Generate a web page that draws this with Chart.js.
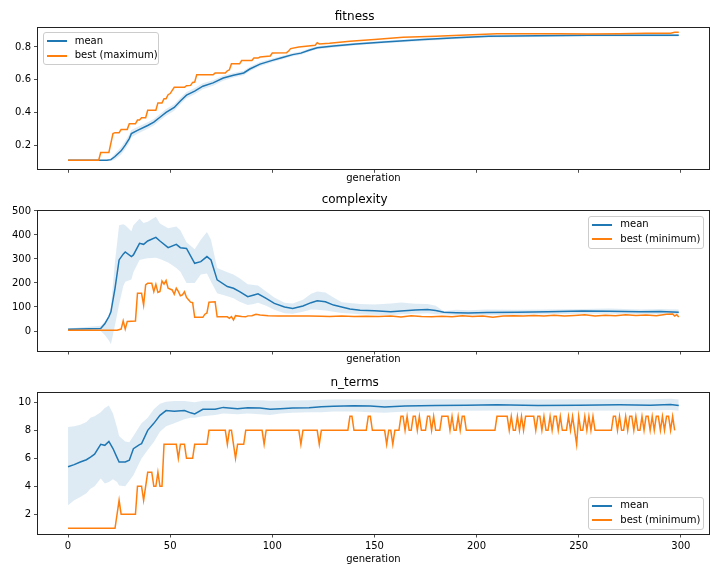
<!DOCTYPE html>
<html>
<head>
<meta charset="utf-8">
<script src="https://cdn.jsdelivr.net/npm/chart.js@4.4.0/dist/chart.umd.min.js"></script>
<style>
    body { margin: 0; background: #fff; }
    #wrap { position: relative; width: 720px; height: 576px; font-family: "DejaVu Sans", sans-serif; }
    #wrap canvas { position: absolute; left: 0; }
    .legend { position: absolute; background: rgba(255,255,255,0.8); border: 1px solid #cccccc; border-radius: 3px; box-sizing: border-box; }
    .legend .sw { position: absolute; height: 2px; width: 20px; }
    .legend .lb { position: absolute; font-size: 10px; line-height: 12px; color: #000; white-space: nowrap; }
</style>
</head>
<body>
<div id="wrap">
    <canvas id="fitChart" width="720" height="190" style="top:0px"></canvas>
    <canvas id="cxChart" width="720" height="180" style="top:190px"></canvas>
    <canvas id="ntChart" width="720" height="206" style="top:370px"></canvas>
</div>
<script>
// ---- data ----
var xTicks = [0, 50, 100, 150, 200, 250, 300];

// fitness
var fitTicks = [0.2, 0.4, 0.6, 0.8];
var fitGen = [0, 19, 21, 23, 26, 28, 30, 31, 34, 39, 42, 45, 48, 52, 55, 58, 62, 66, 71, 76, 81, 86, 89, 94, 100, 105, 110, 114, 118, 122, 130, 141, 155, 174, 190, 206, 230, 255, 280, 299];
var fitMean = [0.107, 0.107, 0.111, 0.13, 0.165, 0.2, 0.24, 0.27, 0.29, 0.32, 0.34, 0.37, 0.40, 0.43, 0.47, 0.505, 0.53, 0.56, 0.58, 0.61, 0.627, 0.641, 0.665, 0.695, 0.718, 0.735, 0.753, 0.762, 0.78, 0.795, 0.806, 0.818, 0.83, 0.845, 0.856, 0.865, 0.868, 0.871, 0.871, 0.871];
var fitUpper = [0.109, 0.109, 0.12, 0.148, 0.188, 0.225, 0.265, 0.292, 0.31, 0.34, 0.36, 0.39, 0.42, 0.45, 0.49, 0.524, 0.549, 0.578, 0.597, 0.626, 0.641, 0.655, 0.679, 0.708, 0.73, 0.746, 0.763, 0.772, 0.79, 0.804, 0.815, 0.826, 0.838, 0.853, 0.864, 0.873, 0.876, 0.879, 0.879, 0.879];
var fitLower = [0.105, 0.105, 0.102, 0.112, 0.142, 0.175, 0.215, 0.248, 0.27, 0.3, 0.32, 0.35, 0.38, 0.41, 0.45, 0.486, 0.511, 0.542, 0.563, 0.594, 0.613, 0.627, 0.651, 0.682, 0.706, 0.724, 0.743, 0.752, 0.77, 0.786, 0.797, 0.81, 0.822, 0.837, 0.848, 0.857, 0.86, 0.863, 0.863, 0.863];
var fitBestGen = [0, 15, 16, 20, 22, 23, 25, 26, 29, 30, 33, 34, 35, 36, 38, 39, 43, 44, 46, 47, 48, 49, 50, 52, 57, 58, 60, 61, 62, 63, 71, 72, 77, 78, 79, 80, 84, 85, 90, 91, 93, 94, 99, 100, 107, 108, 109, 113, 121, 122, 123, 128, 138, 150, 164, 180, 198, 210, 240, 255, 270, 283, 295, 297, 299];
var fitBest = [0.107, 0.107, 0.155, 0.155, 0.27, 0.276, 0.276, 0.296, 0.296, 0.33, 0.33, 0.353, 0.353, 0.367, 0.367, 0.413, 0.413, 0.458, 0.458, 0.484, 0.484, 0.508, 0.515, 0.553, 0.553, 0.563, 0.565, 0.583, 0.585, 0.63, 0.63, 0.64, 0.64, 0.654, 0.66, 0.697, 0.697, 0.717, 0.717, 0.732, 0.732, 0.738, 0.745, 0.763, 0.765, 0.775, 0.79, 0.80, 0.81, 0.826, 0.818, 0.822, 0.835, 0.845, 0.859, 0.866, 0.875, 0.881, 0.88, 0.879, 0.88, 0.883, 0.884, 0.889, 0.889];

// complexity
var cxTicks = [0, 100, 200, 300, 400, 500];
var cxGen = [0, 16, 18, 20, 21, 23, 25, 27, 28, 31, 32, 35, 37, 39, 43, 45, 49, 53, 55, 58, 62, 65, 68, 70, 73, 78, 81, 84, 88, 91, 93, 97, 101, 106, 110, 115, 119, 122, 126, 130, 134, 138, 143, 150, 158, 163, 170, 176, 180, 184, 190, 196, 205, 220, 235, 252, 265, 280, 290, 299];
var cxMean = [7, 10, 30, 60, 80, 178, 296, 320, 329, 310, 317, 365, 361, 375, 390, 375, 347, 361, 347, 344, 282, 289, 310, 296, 213, 185, 178, 164, 143, 150, 155, 136, 115, 100, 94, 104, 118, 126, 122, 108, 100, 92, 86, 84, 80, 83, 87, 90, 85, 78, 76, 75, 77, 78, 80, 83, 82, 80, 81, 78];
var cxUpper = [10, 22, 40, 60, 100, 290, 440, 445, 440, 415, 440, 468, 450, 455, 476, 448, 428, 435, 420, 370, 340, 380, 412, 380, 262, 245, 235, 220, 195, 192, 190, 165, 140, 118, 115, 130, 155, 165, 160, 140, 120, 117, 112, 110, 115, 119, 114, 112, 105, 82, 88, 86, 90, 88, 90, 92, 94, 90, 92, 90];
var cxLower = [4, 0, -17, -40, -55, 25, 110, 185, 205, 215, 245, 296, 300, 303, 305, 300, 285, 262, 247, 200, 200, 235, 240, 205, 157, 145, 136, 122, 108, 112, 118, 105, 88, 74, 72, 80, 90, 88, 85, 80, 75, 73, 70, 68, 66, 70, 72, 74, 70, 70, 67, 65, 66, 68, 70, 72, 72, 71, 70, 68];
var cxBestGen = [0, 24, 26, 27, 28, 29, 33, 34, 36, 37, 38, 39, 41, 42, 43, 44, 45, 46, 47, 48, 49, 51, 52, 53, 54, 55, 56, 57, 58, 59, 60, 61, 62, 66, 67, 68, 69, 72, 73, 78, 79, 80, 81, 82, 85, 87, 88, 90, 92, 94, 98, 103, 108, 112, 118, 124, 128, 134, 140, 146, 152, 158, 163, 168, 173, 178, 183, 188, 193, 198, 203, 208, 213, 218, 223, 228, 233, 238, 243, 248, 253, 258, 263, 268, 273, 278, 283, 288, 293, 296, 297, 298, 299];
var cxBest = [3, 3, 8, 42, 8, 40, 42, 157, 157, 108, 192, 199, 199, 164, 194, 161, 165, 208, 195, 210, 178, 171, 153, 178, 165, 147, 150, 164, 140, 130, 120, 118, 57, 57, 70, 75, 120, 122, 59, 59, 53, 60, 46, 64, 60, 59, 63, 64, 70, 67, 64, 62, 63, 62, 62, 61, 60, 62, 60, 61, 60, 62, 58, 63, 60, 59, 61, 59, 63, 60, 62, 57, 62, 64, 62, 65, 63, 66, 62, 65, 68, 63, 66, 64, 68, 65, 67, 64, 70, 71, 62, 68, 58];

// n_terms
var ntTicks = [2, 4, 6, 8, 10];
var ntGen = [0, 3, 6, 9, 11, 13, 16, 18, 20, 22, 24, 25, 28, 30, 32, 35, 36, 39, 42, 45, 48, 52, 57, 60, 62, 66, 72, 76, 83, 88, 94, 99, 104, 110, 118, 124, 130, 140, 148, 155, 165, 180, 195, 210, 230, 250, 270, 285, 295, 299];
var ntMean = [5.40, 5.55, 5.74, 5.9, 6.09, 6.3, 7.0, 6.93, 7.21, 6.7, 6.05, 5.74, 5.74, 5.86, 6.69, 6.98, 7.05, 8.0, 8.5, 9.07, 9.41, 9.36, 9.41, 9.25, 9.17, 9.5, 9.5, 9.64, 9.55, 9.62, 9.6, 9.5, 9.55, 9.6, 9.62, 9.69, 9.72, 9.76, 9.74, 9.66, 9.74, 9.78, 9.8, 9.82, 9.78, 9.8, 9.82, 9.8, 9.85, 9.78];
var ntUpper = [8.24, 8.3, 8.4, 8.6, 8.9, 9.0, 9.3, 9.6, 9.78, 9.2, 8.2, 7.6, 7.2, 7.15, 7.6, 8.3, 8.5, 8.9, 9.5, 9.9, 10.05, 10.1, 10.1, 10.05, 10.0, 10.12, 10.12, 10.15, 10.12, 10.15, 10.15, 10.12, 10.13, 10.14, 10.15, 10.18, 10.2, 10.2, 10.2, 10.18, 10.2, 10.22, 10.22, 10.23, 10.2, 10.22, 10.23, 10.22, 10.25, 10.2];
var ntLower = [2.64, 3.0, 3.24, 3.5, 3.83, 4.0, 4.55, 4.2, 4.31, 4.5, 4.3, 4.05, 4.0, 4.4, 4.79, 5.7, 5.98, 6.6, 7.17, 7.9, 8.3, 8.5, 8.8, 8.9, 8.9, 9.0, 9.1, 9.2, 9.15, 9.2, 9.15, 9.1, 9.2, 9.25, 9.3, 9.3, 9.35, 9.35, 9.3, 9.25, 9.35, 9.38, 9.4, 9.42, 9.4, 9.4, 9.42, 9.42, 9.45, 9.4];
var ntBestGen = [0, 23, 25, 26, 33, 34, 36, 37, 39, 41, 42, 43, 44, 45, 46, 47, 53, 54, 55, 57, 58, 61, 62, 68, 69, 77, 78, 79, 80, 82, 83, 86, 87, 95, 96, 97, 113, 114, 115, 122, 123, 124, 137, 138, 139, 140, 146, 147, 148, 149, 155, 156, 157, 158, 159, 160,
    162, 163, 164, 165, 166, 167, 168, 169, 170, 171, 172, 173, 175, 176, 177, 178, 179, 180, 182, 183, 186, 187, 188, 189, 190, 191, 192, 193, 194, 195, 209, 210, 215, 216, 217, 218, 219, 220, 221, 222, 223, 224, 228, 229, 230, 231, 232, 233, 234, 235, 236, 237, 238, 239, 240, 241, 242, 244, 245, 246, 247, 248, 249, 250, 251, 252, 253, 254, 255, 256, 257, 258, 266, 267, 268, 269, 270, 271, 272, 273, 274, 275, 276, 277, 278, 279, 280, 281, 282, 283, 284, 285, 286, 287, 288, 289, 290, 291, 292, 293, 294, 295, 296, 297, 298, 299];
var ntBest = [1, 1, 3, 2, 2, 4, 4, 3, 5, 5, 4, 4, 5, 4, 4, 7, 7, 6, 7, 7, 6, 6, 7, 7, 8, 8, 7, 8, 8, 6, 7, 7, 8, 8, 7, 8, 8, 7, 8, 8, 7, 8, 8, 9, 9, 8, 8, 9, 9, 8, 8, 7, 8, 8, 7, 8,
    8, 9, 9, 8, 9, 8, 8, 9, 9, 8, 9, 8, 8, 9, 9, 8, 9, 8, 8, 9, 9, 8, 9, 8, 8, 9, 8, 9, 9, 8, 8, 9, 9, 8, 9, 8, 8, 9, 8, 9, 8, 9, 9, 8, 9, 9, 8, 9, 8, 8, 9, 8, 9, 9, 8, 9, 8, 8, 9, 8, 9, 8, 7, 9, 8, 8, 9, 8, 9, 8, 9, 8, 8, 9, 9, 8, 9, 8, 8, 9, 8, 9, 9, 8, 9, 8, 8, 9, 8, 9, 9, 8, 9, 8, 9, 9, 8, 9, 8, 9, 9, 8, 9, 8];

var BLUE = '#1f77b4';
var ORANGE = '#ff7f0e';
var BAND = 'rgba(31,119,180,0.15)';
var FONT = 'DejaVu Sans';

Chart.defaults.font.family = FONT;

function pts(xs, ys) {
    return xs.map(function (x, i) { return { x: x, y: ys[i] }; });
}

// black box round the plot area, like matplotlib spines
var framePlugin = {
    id: 'frame',
    afterDraw: function (chart) {
        var a = chart.chartArea, ctx = chart.ctx;
        ctx.save();
        ctx.strokeStyle = '#222';
        ctx.lineWidth = 1;
        var l = Math.floor(a.left) + 0.5, t = Math.floor(a.top) + 0.5;
        var r = Math.floor(a.right) + 0.5, b = Math.floor(a.bottom) + 0.5;
        ctx.strokeRect(l, t, r - l, b - t);
        ctx.restore();
    }
};

function makeChart(id, cfg) {
    var ctx = document.getElementById(id).getContext('2d');
    return new Chart(ctx, {
        type: 'line',
        data: {
            datasets: [{
                data: pts(cfg.bestGen, cfg.best),
                borderColor: ORANGE, borderWidth: 1.5, pointRadius: 0, fill: false, tension: 0
            }, {
                data: pts(cfg.gen, cfg.mean),
                borderColor: BLUE, borderWidth: 1.5, pointRadius: 0, fill: false, tension: 0
            }, {
                data: pts(cfg.gen, cfg.upper),
                borderColor: 'transparent', borderWidth: 0, pointRadius: 0, backgroundColor: BAND, fill: '+1', tension: 0
            }, {
                data: pts(cfg.gen, cfg.lower),
                borderColor: 'transparent', borderWidth: 0, pointRadius: 0, fill: false, tension: 0
            }]
        },
        plugins: [framePlugin],
        options: {
            responsive: false,
            animation: false,
            events: [],
            layout: { padding: { left: 0, right: 10.7, top: 0, bottom: 0 } },
            plugins: {
                legend: { display: false },
                tooltip: { enabled: false },
                filler: { drawTime: 'beforeDatasetsDraw' },
                title: {
                    display: true,
                    text: cfg.title,
                    color: '#000',
                    font: { family: FONT, size: 12, weight: 'normal' },
                    padding: cfg.titlePad
                }
            },
            scales: {
                x: {
                    type: 'linear',
                    min: -14.95,
                    max: 313.95,
                    afterBuildTicks: function (s) { s.ticks = xTicks.map(function (v) { return { value: v }; }); },
                    afterFit: function (s) { s.height = cfg.xHeight; },
                    border: { display: false },
                    grid: { display: true, drawOnChartArea: false, drawTicks: true, tickLength: 3.5, color: '#222', lineWidth: 0.8 },
                    ticks: { display: cfg.xLabels, padding: 3, color: '#000', font: { family: FONT, size: 10 } },
                    title: {
                        display: true,
                        text: 'generation',
                        color: '#000',
                        font: { family: FONT, size: 10 },
                        padding: { top: 0, bottom: cfg.xTitlePad }
                    }
                },
                y: {
                    type: 'linear',
                    min: cfg.yMin,
                    max: cfg.yMax,
                    afterBuildTicks: function (s) { s.ticks = cfg.yTicks.map(function (v) { return { value: v }; }); },
                    afterFit: function (s) { s.width = 37.5; },
                    border: { display: false },
                    grid: { display: true, drawOnChartArea: false, drawTicks: true, tickLength: 3.5, color: '#222', lineWidth: 0.8 },
                    ticks: {
                        padding: 3, color: '#000', font: { family: FONT, size: 10 },
                        callback: function (v) { return String(v); }
                    }
                }
            }
        }
    });
}

makeChart('fitChart', {
    title: 'fitness', titlePad: { top: 9.5, bottom: 3.4 },
    gen: fitGen, mean: fitMean, upper: fitUpper, lower: fitLower,
    bestGen: fitBestGen, best: fitBest,
    yMin: 0.052, yMax: 0.92, yTicks: fitTicks,
    xHeight: 20.7, xTitlePad: 6, xLabels: false
});

makeChart('cxChart', {
    title: 'complexity', titlePad: { top: 2.8, bottom: 2.8 },
    gen: cxGen, mean: cxMean, upper: cxUpper, lower: cxLower,
    bestGen: cxBestGen, best: cxBest,
    yMin: -83.3, yMax: 504, yTicks: cxTicks,
    xHeight: 19, xTitlePad: 5, xLabels: false
});

makeChart('ntChart', {
    title: 'n_terms', titlePad: { top: 6.1, bottom: 2.2 },
    gen: ntGen, mean: ntMean, upper: ntUpper, lower: ntLower,
    bestGen: ntBestGen, best: ntBest,
    yMin: 0.59, yMax: 10.69, yTicks: ntTicks,
    xHeight: 42, xTitlePad: 10.7, xLabels: true
});

// legends drawn as html boxes inside the plot areas
function addLegend(left, top, labels) {
    var box = document.createElement('div');
    box.className = 'legend';
    box.style.left = left + 'px';
    box.style.top = top + 'px';
    box.style.width = '116px';
    box.style.height = '33px';
    var colors = [BLUE, ORANGE];
    for (var i = 0; i < labels.length; i++) {
        var sw = document.createElement('div');
        sw.className = 'sw';
        sw.style.left = '3px';
        sw.style.top = (7 + i * 14.4) + 'px';
        sw.style.background = colors[i];
        box.appendChild(sw);
        var lb = document.createElement('div');
        lb.className = 'lb';
        lb.style.left = '31px';
        lb.style.top = (1.8 + i * 14.4) + 'px';
        lb.textContent = labels[i];
        box.appendChild(lb);
    }
    document.getElementById('wrap').appendChild(box);
}

addLegend(42.7, 32.3, ['mean', 'best (maximum)']);
addLegend(588.3, 215.7, ['mean', 'best (minimum)']);
addLegend(588.3, 496.7, ['mean', 'best (minimum)']);
</script>
</body>
</html>
